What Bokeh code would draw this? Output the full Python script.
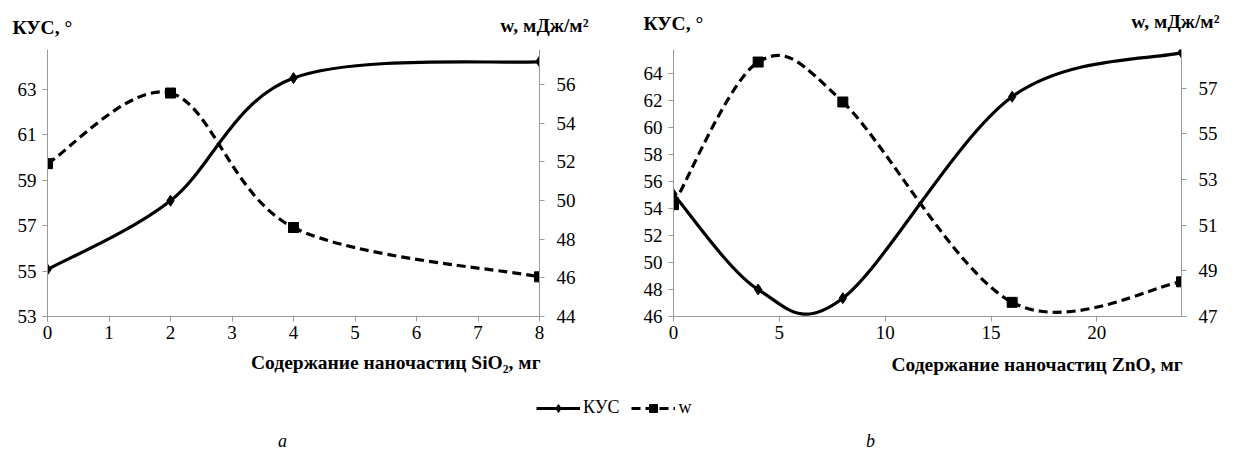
from bokeh.plotting import figure
from bokeh.models import Range1d, LinearAxis, FixedTicker, Label
from bokeh.layouts import column, row
from bokeh.embed import file_html
from bokeh.resources import INLINE

# ---------------- data ----------------
sio2_x = [0, 2, 4, 8]
sio2_kus = [55.07, 58.1, 63.5, 64.23]
sio2_w = [51.9, 55.55, 48.6, 46.05]

zno_x = [0, 4, 8, 16, 24]
zno_kus = [55.07, 48.0, 47.36, 62.3, 65.57]
zno_w = [51.9, 58.15, 56.4, 47.62, 48.52]

sio2_x_ticks = [0, 1, 2, 3, 4, 5, 6, 7, 8]
sio2_kus_ticks = [53, 55, 57, 59, 61, 63]
sio2_w_ticks = [44, 46, 48, 50, 52, 54, 56]

zno_x_ticks = [0, 5, 10, 15, 20]
zno_kus_ticks = [46, 48, 50, 52, 54, 56, 58, 60, 62, 64]
zno_w_ticks = [47, 49, 51, 53, 55, 57]

series_names = ["КУС", "w"]
y_title_left = "КУС, °"
y_title_right = "w, мДж/м²"
x_title_a = "Содержание наночастиц SiO₂, мг"
x_title_b = "Содержание наночастиц ZnO,  мг"
panel_names = ["a", "b"]

SERIF = "'Times New Roman', 'Liberation Serif', serif"
AXIS_COLOR = "#9a9a9a"
W_DASH = "9 5"
TITLE_SIZE = "19.5px"


def bezier_parts(xs, ys):
    """Control points of a smooth (Catmull-Rom style) curve through the points."""
    n = len(xs)
    out = dict(x0=[], y0=[], x1=[], y1=[], cx0=[], cy0=[], cx1=[], cy1=[])
    for i in range(n - 1):
        xp, yp = (xs[i - 1], ys[i - 1]) if i > 0 else (xs[i], ys[i])
        xn, yn = (xs[i + 2], ys[i + 2]) if i + 2 < n else (xs[i + 1], ys[i + 1])
        out["x0"].append(xs[i]); out["y0"].append(ys[i])
        out["x1"].append(xs[i + 1]); out["y1"].append(ys[i + 1])
        out["cx0"].append(xs[i] + (xs[i + 1] - xp) / 6.0)
        out["cy0"].append(ys[i] + (ys[i + 1] - yp) / 6.0)
        out["cx1"].append(xs[i + 1] - (xn - xs[i]) / 6.0)
        out["cy1"].append(ys[i + 1] - (yn - ys[i]) / 6.0)
    return out


def style_axis(ax, ticks):
    ax.ticker = FixedTicker(ticks=ticks)
    ax.axis_line_color = AXIS_COLOR
    ax.major_tick_line_color = AXIS_COLOR
    ax.major_tick_in = 0
    ax.major_tick_out = 5
    ax.minor_tick_line_color = None
    ax.major_label_text_font = SERIF
    ax.major_label_text_font_size = "19px"
    ax.major_label_text_color = "black"


def blank(width, height):
    f = figure(width=width, height=height, x_range=Range1d(0, 1), y_range=Range1d(0, 1),
               toolbar_location=None, output_backend="svg", min_border=0)
    f.axis.visible = False
    f.grid.visible = False
    f.outline_line_color = None
    return f


def add_text(f, txt, x, y, align, style="bold", size=TITLE_SIZE):
    f.add_layout(Label(x=x, y=y, x_units="screen", y_units="screen", text=txt,
                       text_font=SERIF, text_font_style=style, text_font_size=size,
                       text_align=align, text_baseline="middle", text_color="black"))


def make_chart(width, height, border, xs, kus, w, xr, yr_l, yr_r, xt, ylt, yrt):
    p = figure(width=width, height=height, x_range=Range1d(*xr), y_range=Range1d(*yr_l),
               toolbar_location=None, output_backend="svg",
               min_border_left=border[0], min_border_right=border[1],
               min_border_top=border[2], min_border_bottom=border[3])
    p.outline_line_color = None
    p.grid.visible = False
    p.extra_y_ranges = {"w": Range1d(*yr_r)}
    p.add_layout(LinearAxis(y_range_name="w"), "right")
    style_axis(p.xaxis[0], xt)
    p.xaxis[0].major_label_standoff = 4
    style_axis(p.yaxis[0], ylt)
    p.yaxis[0].major_label_standoff = 6
    style_axis(p.yaxis[1], yrt)
    p.yaxis[1].major_label_standoff = 12

    bk = bezier_parts(xs, kus)
    p.bezier(line_color="black", line_width=3.2, **bk)
    p.scatter(xs, kus, marker="diamond", size=11, color="black")

    bw = bezier_parts(xs, w)
    p.bezier(line_color="black", line_width=3.2, line_dash=W_DASH, y_range_name="w", **bw)
    p.scatter(xs, w, marker="square", size=10, color="black", y_range_name="w")
    return p


# top strip with the axis titles
top = blank(1236, 38)
add_text(top, y_title_left, 12, 11, "left")
add_text(top, y_title_right, 588, 13, "right")
add_text(top, y_title_left, 643, 15, "left")
add_text(top, y_title_right, 1219, 17, "right")

p1 = make_chart(600, 312, (47, 61, 11, 34), sio2_x, sio2_kus, sio2_w,
                (0, 8), (53, 64.76), (44, 57.8),
                sio2_x_ticks, sio2_kus_ticks, sio2_w_ticks)

p2 = make_chart(636, 312, (73, 55, 5, 33), zno_x, zno_kus, zno_w,
                (0, 24), (46, 65.8), (47, 58.7),
                zno_x_ticks, zno_kus_ticks, zno_w_ticks)

# bottom strip: x titles, legend, panel letters
p3 = blank(1236, 108)
add_text(p3, x_title_a, 540, 96, "right")
add_text(p3, x_title_b, 1187, 94, "right")
# legend proxies (drawn from the data, but outside this strip's visible range)
p3.line(sio2_x, sio2_kus, line_width=3.2, color="black", legend_label=series_names[0])
p3.scatter(sio2_x, sio2_kus, marker="diamond", size=11, color="black", legend_label=series_names[0])
p3.line(sio2_x, sio2_w, line_width=3.2, color="black", line_dash=W_DASH, legend_label=series_names[1])
p3.scatter(sio2_x, sio2_w, marker="square", size=10, color="black", legend_label=series_names[1])
lg = p3.legend[0]
lg.location = (536, 40)
lg.orientation = "horizontal"
lg.border_line_color = None
lg.background_fill_alpha = 0
lg.padding = 0
lg.margin = 0
lg.spacing = 12
lg.glyph_width = 44
lg.label_standoff = 3
lg.label_text_font = SERIF
lg.label_text_font_size = "18px"
lg.label_text_color = "black"

for txt, x in zip(panel_names, [282, 870]):
    add_text(p3, txt, x, 18, "center", style="italic", size="18px")

layout = column(top, row(p1, p2), p3)
open("out.html", "w").write(file_html(layout, INLINE))
